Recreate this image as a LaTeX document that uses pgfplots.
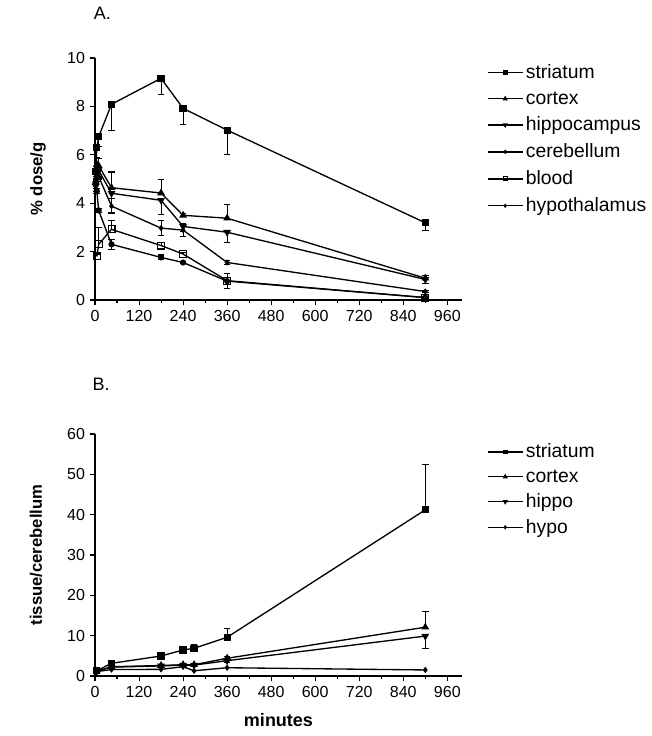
\documentclass[border=0pt]{standalone}
\usepackage{pgfplots}
\pgfplotsset{compat=1.18}
\usepackage{fontspec}
\setmainfont{Liberation Sans}

\pgfplotsset{
  panel/.style={
    scale only axis,
    width=275.25pt, height=181.5pt,
    axis lines=left,
    axis line style={-, line width=0.9pt},
    xmin=0, xmax=1000,
    xtick={0,120,...,960},
    minor x tick num=1,
    tick align=outside,
    major tick length=4pt,
    minor tick length=2.5pt,
    every tick/.style={black, line width=0.8pt},
    /pgf/number format/assume math mode=true,
    tick label style={font=\fontsize{12}{14}\selectfont},
    label style={font=\bfseries\fontsize{12.5}{15}\selectfont},
    clip=false,
    every axis plot/.append style={black, line width=1pt},
    error bars/error bar style={line width=0.8pt},
    error bars/error mark options={rotate=90, mark size=2.4pt, line width=0.8pt},
    legend cell align=left,
    legend style={draw=none, fill=none, inner sep=0pt, anchor=north west,
      font=\fontsize{14.5}{16}\selectfont, row sep=4.2pt},
    legend image code/.code={
      \draw[mark repeat=2, mark phase=2, #1]
        plot coordinates {(0pt,0pt) (13pt,0pt) (26pt,0pt)};},
    legend image post style={every mark/.append style={scale=0.55}},
  },
}

\begin{document}
\begin{tikzpicture}
\path (0pt,0pt) rectangle (489pt,-552pt);

% panel A
\begin{axis}[panel,
  at={(71.25pt,-225pt)}, anchor=south west,
  ymin=0, ymax=10, ytick={0,2,...,10},
  ylabel={\% dose/g},
  ylabel style={at={(axis description cs:-0.155,0.5)}, anchor=center, rotate=0},
  title={A.},
  title style={at={(axis description cs:-0.016,1.124)}, anchor=base west,
    font=\fontsize{13.5}{15}\selectfont},
  legend style={at={(1.068,0.985)}},
]
\addplot[black, mark=square*, mark size=2.2pt,
  error bars/.cd, y dir=minus, y explicit] coordinates {
  (2,5.3) +- (0,0.4) (5,6.3) +- (0,0.4) (10,6.75) +- (0,0.4)
  (45,8.09) +- (0,1.1) (180,9.16) +- (0,0.65) (240,7.92) +- (0,0.65)
  (360,7.02) +- (0,1.0) (900,3.19) +- (0,0.3)};
\addplot[black, mark=triangle*, mark size=2.4pt,
  error bars/.cd, y dir=plus, y explicit] coordinates {
  (2,4.9) +- (0,0.2) (5,5.6) +- (0,0.3) (10,5.55) +- (0,0.3)
  (45,4.64) +- (0,0.65) (180,4.42) +- (0,0.57) (240,3.5) +- (0,0.08)
  (360,3.38) +- (0,0.57) (900,0.9) +- (0,0.1)};
\addplot[black, mark=triangle*, mark size=2.4pt, mark options={rotate=180},
  error bars/.cd, y dir=minus, y explicit] coordinates {
  (2,4.7) +- (0,0.2) (5,5.3) +- (0,0.3) (10,5.35) +- (0,0.3)
  (45,4.41) +- (0,0.8) (180,4.12) +- (0,0.58) (240,3.04) +- (0,0.2)
  (360,2.8) +- (0,0.42) (900,0.85) +- (0,0.15)};
\addplot[black, mark=*, mark size=1.8pt,
  error bars/.cd, y dir=both, y explicit] coordinates {
  (2,4.9) +- (0,0.1) (5,4.5) +- (0,0.1) (10,3.7) +- (0,0.1)
  (45,2.3) +- (0,0.2) (180,1.76) +- (0,0.1) (240,1.55) +- (0,0.05)
  (360,0.78) +- (0,0.3) (900,0.1) +- (0,0.05)};
\addplot[black, mark=square, mark size=2.6pt, mark options={fill=white, line width=0.8pt},
  error bars/.cd, y dir=plus, y explicit] coordinates {
  (5,1.8) +- (0,0.1) (10,2.3) +- (0,0.7)
  (45,2.92) +- (0,0.35) (180,2.25) +- (0,0.12) (240,1.9) +- (0,0.05)
  (360,0.8) +- (0,0.3) (900,0.1) +- (0,0.05)};
\addplot[black, mark=diamond*, mark size=1.6pt,
  error bars/.cd, y dir=both, y explicit] coordinates {
  (2,4.5) +- (0,0.1) (5,5.0) +- (0,0.1) (10,5.1) +- (0,0.1)
  (45,3.88) +- (0,0.3) (180,2.97) +- (0,0.3) (240,2.89) +- (0,0.25)
  (360,1.55) +- (0,0.1) (900,0.35) +- (0,0.05)};
\legend{striatum, cortex, hippocampus, cerebellum, blood, hypothalamus}
\end{axis}

% panel B
\begin{axis}[panel,
  at={(71.25pt,-507pt)}, anchor=south west,
  ymin=0, ymax=60, ytick={0,10,...,60},
  ylabel={tissue/cerebellum},
  ylabel style={at={(axis description cs:-0.161,0.5)}, anchor=center, rotate=0},
  xlabel={minutes},
  xlabel style={at={(axis description cs:0.5,-0.182)}, anchor=center,
    font=\bfseries\fontsize{13.5}{15}\selectfont},
  title={B.},
  title style={at={(axis description cs:-0.019,1.145)}, anchor=base west,
    font=\fontsize{13.5}{15}\selectfont},
  legend style={at={(1.068,0.971)}, row sep=3.2pt},
]
\addplot[black, mark=square*, mark size=2.2pt,
  error bars/.cd, y dir=plus, y explicit] coordinates {
  (5,1.3) +- (0,0.2) (45,3.15) +- (0,0.3) (180,4.96) +- (0,0.4)
  (240,6.45) +- (0,0.4) (270,6.87) +- (0,0.9) (360,9.6) +- (0,2.2)
  (900,41.2) +- (0,11.2)};
\addplot[black, mark=triangle*, mark size=2.4pt,
  error bars/.cd, y dir=plus, y explicit] coordinates {
  (5,1.2) +- (0,0.1) (45,2.3) +- (0,0.2) (180,2.6) +- (0,0.2)
  (240,2.8) +- (0,0.2) (270,2.8) +- (0,0.3) (360,4.4) +- (0,0.4)
  (900,12.1) +- (0,4.0)};
\addplot[black, mark=triangle*, mark size=2.4pt, mark options={rotate=180},
  error bars/.cd, y dir=minus, y explicit] coordinates {
  (5,1.2) +- (0,0.1) (45,2.2) +- (0,0.2) (180,2.5) +- (0,0.2)
  (240,2.7) +- (0,0.2) (270,2.7) +- (0,0.3) (360,3.8) +- (0,0.4)
  (900,9.9) +- (0,3.0)};
\addplot[black, mark=diamond*, mark size=1.6pt] coordinates {
  (5,1.1) (45,1.6) (180,1.65) (240,2.3) (270,1.3) (360,2.05) (900,1.5)};
\legend{striatum, cortex, hippo, hypo}
\end{axis}
\end{tikzpicture}
\end{document}
